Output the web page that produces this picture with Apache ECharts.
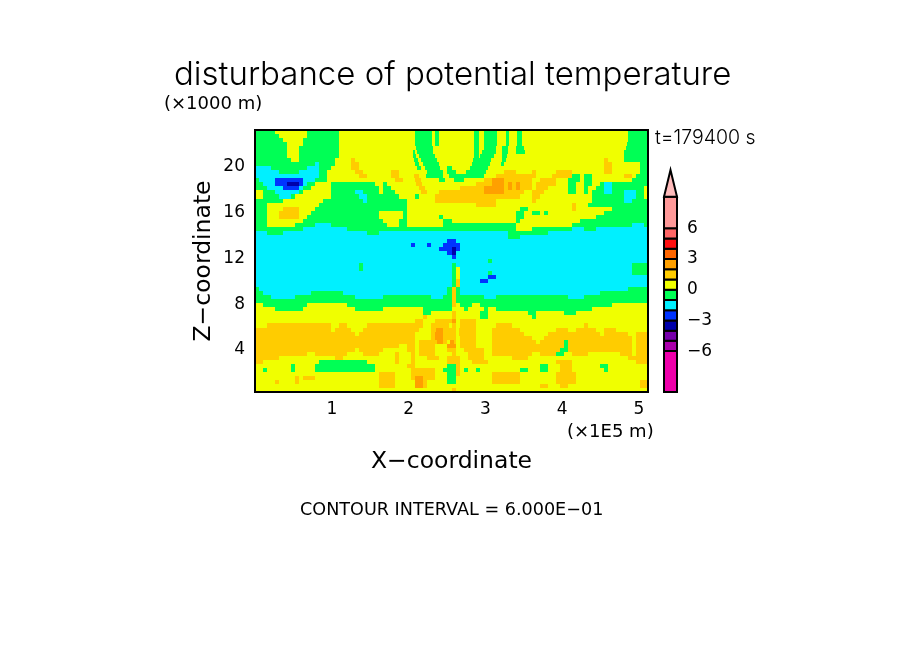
<!DOCTYPE html>
<html>
<head>
<meta charset="utf-8">
<title>disturbance of potential temperature</title>
<style>
  html, body { margin: 0; padding: 0; background: #fff; }
  #main { width: 904px; height: 654px; }
</style>
<script src="https://cdn.jsdelivr.net/npm/echarts@6/dist/echarts.min.js"></script>
</head>
<body>
<div id="main"></div>
<script>
// band value (K) for each letter used in fieldRows
const bandValues = { n: -3.5, b: -2.5, c: -1.5, g: -0.5, y: 0.5, o: 1.5, r: 2.5 };

// field, top row first. each token = band + cell where the run ends
const fieldRows = [
  'g5 y13 g21 y40 g44.2 y45 g45.8 y54.6 g55.8 y57 g60.4 y62.5 g63.3 y65.4 g66.7 y93 g98',
  'g6 y13 g21 y40 g44.2 y45 g45.8 y54.6 g55.8 y57 g60.4 y62.5 g63.3 y65.4 g66.7 y93 g98',
  'g7 y12 g21 y40 g44.2 y45 g45.8 y54.6 g55.8 y57 g60.4 y62.5 g63.3 y65.4 g66.7 y93 g98',
  'g8 y12 g21 y40 g44.2 y45 g45.8 y54.6 g55.8 y57 g60.4 y62.5 g63.3 y65.4 g66.7 y92.7 g98',
  'g8 y11 g21 y40.2 g44.3 y54.6 g55.8 y57 g60 y61.7 g63 y65 g67 y92.5 g98',
  'g8 y11 g21 y39.3 g39.9 y40.5 g44.5 y54.7 g55.8 y56.5 g60 y61.7 g63 y65 g67.3 y92 g98',
  'g8 y11 g21 y39.5 g40.2 y41 g44.8 y54.5 g55.8 y56 g59.5 y61.5 g62.8 y92 g98',
  'g9 y11 g20 y24 o25 y39.7 g40.6 y41.5 g45.3 y54.3 g58.8 y61.5 g62.5 y87 o88 y92 g98',
  'g15 c16 g20 y24 o26 y40 g41 y42 g45.8 y54 g58.5 y61.3 g62 y87 o89 y96 g98',
  'c4 g13 c16 g19 y24 o26 y40.3 g41.3 y42.3 g46.2 y47.9 g49 y53.5 g58 y87 o89 y96 g98',
  'c6 g11 c16 g18 y25 o27 y34 o36 y43 g46.8 y48 g50.2 y52.5 g57.5 y62 o65 y69 o70 y75 o79 y87 o89 y96 g98',
  'c16 g18 y26 o28 y34 o36 y39.6 o40.8 y42.7 g47 y48.5 g57 y60 o70 y74 o79 g81 y82 g84 y92 o94 y95 g98',
  'g1 c5 b12 c15 g18 y35 o37 y39.8 o41.3 y46 g47.5 y49.5 g52 y57 o59 r62 o69 y71 o75 y78 g81 y82 g84 y94 g98',
  'g2 c5 b8 n11 b12 c13 g15 y19 g30 y32 g33 y40.2 o41.7 y55 o59 r62 o63 r64 o65 r66 o69 y70 o75 y78 g80 y82 g84 y86 g87 c89 g98',
  'g3 c7 b11 c12 g14 y19 g31 y32 g34 y40.8 o42.3 y51 o57 r62 o63 r64 o65 r66 o69 y70 o73 y78 g80 y82 g83 y85 g87 c89 g97 y98',
  'y2 g5 c11 g12 y19 g25 c27 g31 y32 g35 y41.5 o42.8 y46 o57 r62 o67 y69 o72 y78 g80 y82 g83 y84 g87 c89 g92 c95 g97 y98',
  'y2 g6 c9 g10 y19 g26 c28 g36 y40 g41 y45 o66 y69 o71 y84 g92 c95 g97 y98',
  'g7 y17 g27 c28 g38 y45 o60 y69 o70 y84 g92 c94 g98',
  'g3 y16 g38 y55 o60 y79 o80 y83 g98',
  'g3 y7 o11 y15 g38 y66 g68 y79 o80 y89 g98',
  'g3 y6 o11 y14 g31 y37 g38 y65 g67 y69 g71 y72 g73 y87 g98',
  'g3 y6 o11 y13 g31 y37 g38 y46 g47 y65 g67 y85 g98',
  'g3 y12 g32 y36 g38 y47 g49 y65 g66 y81 g98',
  'g3 y10 g15 c19 g33 y36 g38 y47 g65 y79 g94 c97 g98',
  'g12 c23 g65 y69 g79 c82 g85 c98',
  'c3 g7 c28 g31 c63 g73 c98',
  'c63 g66 c98',
  'c48 b50 c98',
  'c39 b40 c43 b44 c47 b51 c98',
  'c46 b49 n50 b51 c98',
  'c48 b49 n50 c98',
  'c49 b50 c98',
  'c58 g59 c98',
  'c26 g27 c49 g50 c94 g98',
  'c26 g27 c49 g50 y51 c94 g98',
  'c49 g50 y51 c58 g59 c94 g98',
  'c49 g50 y51 c58 b60 c98',
  'c49 g50 o51 c56 b58 c98',
  'c49 g50 o51 c98',
  'g1 c48 g49 o50 g51 c93 g98',
  'g2 c14 g22 c48 g49 o50 g51 c86 g98',
  'g4 c10 g25 c32 g44 c47 g49 o50 g57 c60 g78 c82 g98',
  'g49 o50 g98',
  'y2 g13 y23 g49 o50 y51 g54 y56 g89 y98',
  'y5 g12 y25 g32 y42 g49 y52 g53 y57 g58 y60 g84 y98',
  'y42 g44 y49 o50 y56 g58 y68 g70 y77 g80 y98',
  'y42 o43 y49 o50 y56 g58 y69 g70 y98',
  'y40 o42 y45 o49 r50 y51 o55 y98',
  'y3 o19 y21 o23 y28 o42 y44 o48.3 y49 o50 y51 o55 y60 o64 y82 o83 y98',
  'o19 y20 o24 y27 o41 y43.8 o45.2 r46.8 o50.2 y50.8 o55 y59 o66 y75 o78 y80 o85 y87 o90 y98',
  'o25 y26 o40 y43.8 o45 r47 o50.2 y50.8 o55 y59 o67 y73 o86 y87 o93 y95 o98',
  'o40 y43.8 o45 r47 o50 y51 o55 y59 o69 y72 o94 y95 o98',
  'o40 y41 o45.5 r46.8 o48 y48.6 r49.5 o50.2 y51 o55 y59 o70 y71 o77 g78 o94 y95 o98',
  'o36 y38 o40 y41 o45 y48 r50 y51 o55 y59 o77 g78 o94 y95 o98',
  'o25 y26 o32 y38 o40 y41 o45 y48 o50 y52 o57 y59 o76 g78 o94 y95 o98',
  'o13 y15 o23 y27 o31 y35 o36 y39 o40 y41 o45 y49 o50 y53 o57 y59 o69 y71 o75 g77 y79 o83 y91 o94 y95 o98',
  'o6 y20 o22 y35 o36 y39 o40 y43 o46 y48 o51 y53 o57 y64 o68 y93 o98',
  'o2 y16 g28 y35 o36 y39 o40 y48 o51 y54 o58 y75 o79 y95 o98',
  'y9 g10 y15 g30 y38 o40 y48 g50 o51 y71 g73 y76 o79 y86 g88 y98',
  'y2 g3 y9 g10 y15 g30 y39 o45 y47 g50 o51 y52 g53 y55 g56 y66 g68 y71 g73 y76 o79 y87 g88 y98',
  'y31 o35 y39 o45 y48 g50 o51 y59 o66 y75 o80 y98',
  'y10 o11 y12 o15 y31 o35 y39 o40 r42 o45 y48 g50 y59 o66 y75 o80 y98',
  'y5 o6 y10 o11 y31 o35 y40 r42 o43 y48 g50 y59 o66 y75 o80 y96 o98',
  'y31 o35 y40 r42 o43 y71 o73 y76 o78 y96 o98',
  'y49 o50 y98'
];
const fieldCols = 98;
const xMax = 5.117;
const zMin = 0.35;
const zMax = 23.15;
const xTicks = [1, 2, 3, 4, 5];
const zTicks = [4, 8, 12, 16, 20];

// colour bar boxes, bottom to top
const barEdges = [-10, -6, -5, -4, -3, -2, -1, 0, 1, 2, 3, 4, 5, 6, 9.1];
const barColors = ['#ee00aa', '#aa00aa', '#7700aa', '#0000aa', '#0033ff', '#00f0ff', '#00ff55',
  '#f0ff00', '#ffcc00', '#ffa000', '#ff6600', '#ff1010', '#ff6666', '#ff9999'];
const barTip = [9.1, 11.7];
const barTicks = [-6, -3, 0, 3, 6];

function colorFor(v) {
  for (let i = 0; i < barColors.length; i++) {
    if (v >= barEdges[i] && v < barEdges[i + 1]) return barColors[i];
  }
  return '#fff';
}

let cells = [];
let rowDepth = (zMax - zMin) / fieldRows.length;
fieldRows.forEach((row, r) => {
  let start = 0;
  row.split(' ').forEach(tok => {
    let end = Number(tok.slice(1));
    if (end > start) {
      cells.push([
        start * xMax / fieldCols,
        end * xMax / fieldCols,
        zMax - (r + 1) * rowDepth,
        zMax - r * rowDepth,
        bandValues[tok[0]]
      ]);
      start = end;
    }
  });
});

let boxes = [];
for (let i = 0; i < barColors.length; i++) {
  boxes.push([barEdges[i], barEdges[i + 1], barColors[i]]);
}

const fontName = 'DejaVu Sans';

function note(text, left, top, size, family, weight) {
  return {
    text: text, left: left, top: top, padding: 0,
    textStyle: { color: '#000', fontSize: size, fontWeight: weight || 'normal', fontFamily: family || fontName }
  };
}

function minusSign(v) {
  return String(v).replace('-', '\u2212');
}

let myChart = echarts.init(document.getElementById('main'));
myChart.setOption({
  animation: false,
  backgroundColor: '#fff',
  title: [
    note('disturbance of potential temperature', 174, 59, 33, 'Inter', 300),
    note('(\u00d71000 m)', 164, 95, 18),
    note('t=179400 s', 655, 128, 19.5, 'Inter', 300),
    note('(\u00d71E5 m)', 567, 423, 18),
    note('CONTOUR INTERVAL = 6.000E\u221201', 300, 501, 17.6)
  ],
  grid: [
    { left: 255, top: 130, width: 393, height: 262, show: true, z: 10, backgroundColor: 'transparent', borderColor: '#000', borderWidth: 2 },
    { left: 664, top: 167, width: 13, height: 225, show: false }
  ],
  xAxis: [
    {
      type: 'value', gridIndex: 0, min: 0, max: xMax,
      name: 'X\u2212coordinate', nameLocation: 'middle', nameGap: 58,
      nameTextStyle: { color: '#000', fontSize: 23.5, fontFamily: fontName },
      axisLine: { show: false }, axisTick: { show: false }, splitLine: { show: false },
      axisLabel: { customValues: xTicks, color: '#000', fontSize: 17, fontFamily: fontName, margin: 9 }
    },
    { type: 'value', gridIndex: 1, min: 0, max: 1, show: false }
  ],
  yAxis: [
    {
      type: 'value', gridIndex: 0, min: zMin, max: zMax,
      name: 'Z\u2212coordinate', nameLocation: 'middle', nameGap: 39,
      nameTextStyle: { color: '#000', fontSize: 23.5, fontFamily: fontName },
      axisLine: { show: false }, axisTick: { show: false }, splitLine: { show: false },
      axisLabel: { customValues: zTicks, color: '#000', fontSize: 17, fontFamily: fontName, margin: 10 }
    },
    {
      type: 'value', gridIndex: 1, min: -10, max: 12, position: 'right',
      axisLine: { show: false }, axisTick: { show: false }, splitLine: { show: false },
      axisLabel: {
        customValues: barTicks, color: '#000', fontSize: 17, fontFamily: fontName, margin: 10,
        formatter: minusSign
      }
    }
  ],
  series: [
    {
      type: 'custom',
      name: 'disturbance',
      xAxisIndex: 0,
      yAxisIndex: 0,
      clip: true,
      encode: { x: [0, 1], y: [2, 3] },
      data: cells,
      renderItem: (params, api) => {
        let p0 = api.coord([api.value(0), api.value(3)]);
        let p1 = api.coord([api.value(1), api.value(2)]);
        let x = Math.round(p0[0]), y = Math.round(p0[1]);
        return {
          type: 'rect',
          shape: { x: x, y: y, width: Math.round(p1[0]) - x, height: Math.round(p1[1]) - y },
          style: { fill: colorFor(api.value(4)) }
        };
      }
    },
    {
      type: 'custom',
      name: 'colour bar',
      xAxisIndex: 1,
      yAxisIndex: 1,
      clip: false,
      encode: { y: [0, 1] },
      data: boxes,
      renderItem: (params, api) => {
        let p0 = api.coord([0, api.value(1)]);
        let p1 = api.coord([1, api.value(0)]);
        return {
          type: 'rect',
          shape: { x: p0[0], y: p0[1], width: p1[0] - p0[0], height: p1[1] - p0[1] },
          style: { fill: boxes[params.dataIndex][2], stroke: '#000', lineWidth: 2 }
        };
      }
    },
    {
      type: 'custom',
      name: 'colour bar tip',
      xAxisIndex: 1,
      yAxisIndex: 1,
      clip: false,
      encode: { y: [0, 1] },
      data: [barTip],
      renderItem: (params, api) => {
        return {
          type: 'polygon',
          shape: { points: [api.coord([0, api.value(0)]), api.coord([1, api.value(0)]), api.coord([0.5, api.value(1)])] },
          style: { fill: '#ffbbbb', stroke: '#000', lineWidth: 2 }
        };
      }
    }
  ]
});
</script>
</body>
</html>
